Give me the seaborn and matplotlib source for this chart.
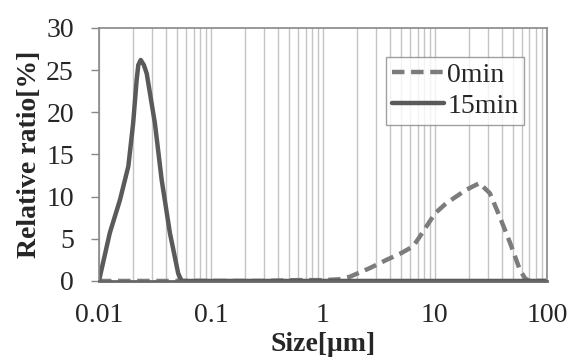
import matplotlib
matplotlib.use("Agg")
import matplotlib.pyplot as plt
import seaborn as sns
import pandas as pd
from matplotlib.ticker import LogLocator, FixedLocator

# 0min sample (dashed)
size_0 = [0.01, 0.02, 0.05, 0.1, 0.3, 0.6, 1.0, 1.4, 1.74, 2.6, 3.7, 5.0, 6.4, 7.9, 10.0, 12.6, 19.0, 25.0, 31.0, 38.0, 47.0, 57.5, 64.0, 70.0, 100.0]
ratio_0 = [0.0, 0.0, 0.0, 0.0, 0.0, 0.1, 0.1, 0.2, 0.5, 1.5, 2.5, 3.3, 4.1, 5.9, 8.0, 9.2, 10.8, 11.6, 10.4, 7.6, 4.5, 1.3, 0.3, 0.0, 0.0]

# 15min sample (solid)
size_15 = [0.01, 0.0125, 0.0154, 0.0183, 0.0202, 0.0217, 0.02245, 0.0236, 0.0252, 0.0267, 0.0316, 0.0363, 0.043, 0.051, 0.0547, 0.1, 1.0, 100.0]
ratio_15 = [0.0, 5.7, 9.6, 13.6, 18.7, 23.8, 25.6, 26.2, 25.6, 24.6, 18.7, 12.0, 5.7, 0.9, 0.0, 0.0, 0.0, 0.0]

df = pd.concat([
    pd.DataFrame({"Size": size_0, "Ratio": ratio_0, "Time": "0min"}),
    pd.DataFrame({"Size": size_15, "Ratio": ratio_15, "Time": "15min"}),
])

sns.set_theme(style="white")
plt.rcParams["font.family"] = "serif"
plt.rcParams["font.serif"] = ["Liberation Serif", "TeX Gyre Termes", "DejaVu Serif"]

fig, ax = plt.subplots(figsize=(5.72, 3.63), dpi=100)
sns.lineplot(data=df, x="Size", y="Ratio", hue="Time", style="Time",
             palette={"0min": "#7c7c7c", "15min": "#5a5a5a"},
             dashes={"0min": (2.8, 1.5), "15min": ""},
             linewidth=3.2, ax=ax, sort=False)
for ln in ax.get_lines():
    ln.set_solid_joinstyle("round")
    ln.set_dash_joinstyle("round")

ax.set_xscale("log")
ax.set_xlim(0.01, 100)
ax.set_ylim(0, 30)
ax.set_yticks([0, 5, 10, 15, 20, 25, 30])
ax.xaxis.set_major_locator(FixedLocator([0.01, 0.1, 1, 10, 100]))
ax.set_xticklabels(["0.01", "0.1", "1", "10", "100"])
ax.xaxis.set_minor_locator(LogLocator(base=10, subs=range(2, 10), numticks=20))
ax.grid(True, which="both", axis="x", color="#c4c4c4", linewidth=1)
ax.tick_params(axis="x", which="both", length=0, labelsize=20, pad=16)
ax.tick_params(axis="y", length=6, width=1, color="#888888", labelsize=20, pad=12, left=True)
ax.tick_params(axis="x", which="minor", labelbottom=False)

for s in ax.spines.values():
    s.set_color("#888888")
    s.set_linewidth(1.2)
ax.spines["bottom"].set_color("#666666")
ax.spines["bottom"].set_linewidth(2)

ax.set_xlabel("Size[μm]", fontsize=20, fontweight="bold", labelpad=3)
ax.set_ylabel("Relative ratio[%]", fontsize=20, fontweight="bold", labelpad=3)

leg = ax.legend(title=None, loc="upper right", bbox_to_anchor=(0.949, 0.885),
                fontsize=20, frameon=True, fancybox=False, handlelength=1.9,
                handletextpad=0.1, borderpad=0.2, labelspacing=0.2, borderaxespad=0)
leg.get_frame().set_edgecolor("#888888")
leg.get_frame().set_linewidth(1)

plt.subplots_adjust(left=0.173, right=0.956, top=0.923, bottom=0.226)
plt.savefig("out.png", dpi=100)
plt.close()
